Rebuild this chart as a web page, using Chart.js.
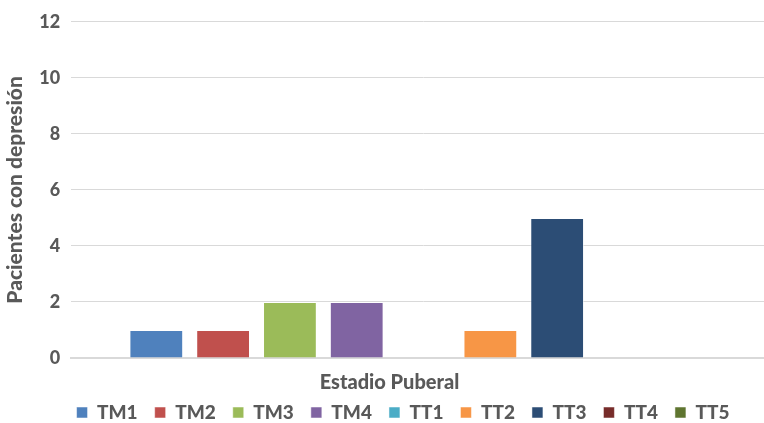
<!DOCTYPE html>
<html>
<head>
<meta charset="utf-8">
<script src="https://cdn.jsdelivr.net/npm/chart.js@4.4.1/dist/chart.umd.min.js"></script>
<style>
  html, body { margin: 0; padding: 0; background: #fff; overflow: hidden; }
  #wrap { position: relative; width: 776px; height: 423px; overflow: hidden; }
</style>
</head>
<body>
<div id="wrap"><canvas id="c" width="776" height="432"></canvas></div>
<script>
const categories = ['Estadio Puberal'];
const seriesNames = ['TM1', 'TM2', 'TM3', 'TM4', 'TT1', 'TT2', 'TT3', 'TT4', 'TT5'];
const seriesValues = [1, 1, 2, 2, 0, 1, 5, 0, 0];
const seriesColors = ['#4F81BD', '#C0504D', '#9BBB59', '#8064A2', '#4BACC6', '#F79646', '#2C4D75', '#772C2A', '#5F7530'];
const yTicks = [0, 2, 4, 6, 8, 10, 12];

const FONT = 'Lato, sans-serif';
const GREY = '#595959';

const datasets = seriesNames.map((name, i) => ({
  label: name,
  data: [seriesValues[i]],
  backgroundColor: seriesColors[i],
  borderColor: 'rgba(255,255,255,0.5)',
  borderWidth: 1,
  categoryPercentage: 0.853,
  barPercentage: 0.805
}));

// nudge the legend row to the right of the canvas centre
const legendShift = {
  id: 'legendShift',
  afterLayout(chart) {
    const lg = chart.legend;
    if (lg) { lg.left += 18; lg.right += 18; }
  }
};

new Chart(document.getElementById('c'), {
  type: 'bar',
  data: { labels: categories, datasets },
  plugins: [legendShift],
  options: {
    responsive: false,
    animation: false,
    layout: { padding: { top: -4, left: 3, right: 0, bottom: 0 } },
    plugins: {
      tooltip: { enabled: false },
      title: {
        display: true,
        position: 'bottom',
        weight: 500,
        text: categories[0],
        color: GREY,
        padding: { top: 13, bottom: 0 },
        font: { family: FONT, size: 20, weight: '900' }
      },
      legend: {
        position: 'bottom',
        labels: {
          boxWidth: 11,
          boxHeight: 11,
          padding: 8,
          color: GREY,
          font: { family: FONT, size: 19, weight: '900' },
          // wider gaps between entries without extra vertical space
          generateLabels: (chart) => Chart.defaults.plugins.legend.labels.generateLabels(chart)
            .map(item => Object.assign(item, { text: item.text + '  ' }))
        }
      }
    },
    scales: {
      x: {
        grid: { display: false, drawTicks: false },
        border: { color: '#d9d9d9', width: 2 },
        ticks: { display: false }
      },
      y: {
        min: yTicks[0],
        max: yTicks[yTicks.length - 1],
        afterBuildTicks: (axis) => { axis.ticks = yTicks.map(v => ({ value: v })); },
        grid: { color: '#d9d9d9', lineWidth: 1, drawTicks: false },
        border: { display: false },
        ticks: {
          padding: 11,
          color: GREY,
          font: { family: FONT, size: 18, weight: '900' }
        },
        title: {
          display: true,
          text: 'Pacientes con depresión',
          color: GREY,
          padding: { top: 0, bottom: 0 },
          font: { family: FONT, size: 21, weight: '900' }
        }
      }
    }
  }
});
</script>
</body>
</html>
